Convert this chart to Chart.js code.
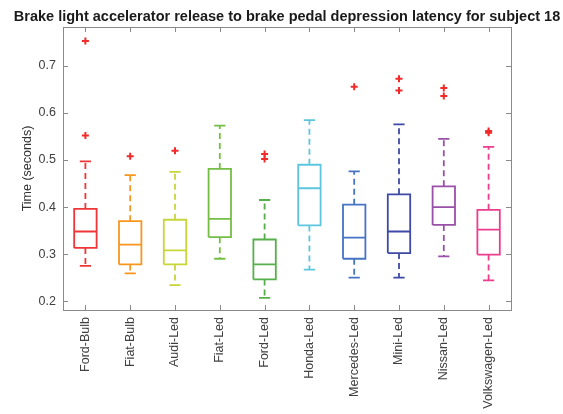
<!DOCTYPE html>
<html>
<head>
<meta charset="utf-8">
<script src="https://cdn.jsdelivr.net/npm/chart.js@4.4.0/dist/chart.umd.min.js"></script>
<style>
    body { margin: 0; background: #ffffff; }
</style>
</head>
<body>
<canvas id="boxChart" width="563" height="414"></canvas>
<script>
const chartTitle = 'Brake light accelerator release to brake pedal depression latency for subject 18';
const categories = ['Ford-Bulb', 'Fiat-Bulb', 'Audi-Led', 'Fiat-Led', 'Ford-Led', 'Honda-Led', 'Mercedes-Led', 'Mini-Led', 'Nissan-Led', 'Volkswagen-Led'];
const whiskerLow = [0.275, 0.259, 0.234, 0.290, 0.207, 0.267, 0.250, 0.250, 0.295, 0.244];
const q1 = [0.313, 0.278, 0.278, 0.336, 0.246, 0.361, 0.290, 0.302, 0.362, 0.299];
const median = [0.348, 0.320, 0.308, 0.375, 0.278, 0.440, 0.335, 0.348, 0.400, 0.352];
const q3 = [0.396, 0.370, 0.373, 0.481, 0.331, 0.490, 0.405, 0.427, 0.444, 0.394];
const whiskerHigh = [0.497, 0.468, 0.475, 0.573, 0.415, 0.585, 0.476, 0.576, 0.545, 0.528];
const outliers = [[0.753, 0.552], [0.508], [0.520], [], [0.513, 0.502], [], [0.656], [0.673, 0.648], [0.653, 0.636], [0.562, 0.558]];
const yTicks = [0.2, 0.3, 0.4, 0.5, 0.6, 0.7];

const boxColors = ['#ee3636', '#f7961f', '#c8d63a', '#74be45', '#55b04a', '#5cc6de', '#4673c2', '#3f4aa6', '#9a50a8', '#ec3d8e'];

const BOX_HALF = 0.25;   // half box width, in category units
const CAP_HALF = 0.125;  // half whisker cap width

const datasets = [];
categories.forEach((name, i) => {
    const x = i + 1;
    const gap = { x: x, y: null };
    // box outline + median + whisker caps (solid)
    datasets.push({
        type: 'line',
        data: [
            { x: x - BOX_HALF, y: q1[i] }, { x: x + BOX_HALF, y: q1[i] },
            { x: x + BOX_HALF, y: q3[i] }, { x: x - BOX_HALF, y: q3[i] },
            { x: x - BOX_HALF, y: q1[i] }, gap,
            { x: x - BOX_HALF, y: median[i] }, { x: x + BOX_HALF, y: median[i] }, gap,
            { x: x - CAP_HALF, y: whiskerHigh[i] }, { x: x + CAP_HALF, y: whiskerHigh[i] }, gap,
            { x: x - CAP_HALF, y: whiskerLow[i] }, { x: x + CAP_HALF, y: whiskerLow[i] }
        ],
        borderColor: boxColors[i],
        borderWidth: 1.8,
        pointRadius: 0,
        spanGaps: false,
        tension: 0
    });
    // whiskers (dashed)
    datasets.push({
        type: 'line',
        data: [
            { x: x, y: q3[i] }, { x: x, y: whiskerHigh[i] }, gap,
            { x: x, y: q1[i] }, { x: x, y: whiskerLow[i] }
        ],
        borderColor: boxColors[i],
        borderWidth: 1.8,
        borderDash: [6, 4],
        pointRadius: 0,
        spanGaps: false
    });
});

// outliers
const outlierPoints = [];
outliers.forEach((list, i) => list.forEach(v => outlierPoints.push({ x: i + 1, y: v })));
datasets.push({
    type: 'scatter',
    data: outlierPoints,
    pointStyle: 'cross',
    pointRadius: 3.5,
    borderWidth: 2,
    borderColor: '#f22a2a',
    backgroundColor: '#f22a2a'
});

// Frame with inward ticks on all four sides, plus the title centred over the plot
const framePlugin = {
    id: 'frame',
    afterDatasetsDraw(chart) {
        const { ctx, chartArea: a, scales } = chart;
        ctx.save();
        ctx.strokeStyle = '#8a8a8a';
        ctx.lineWidth = 1;
        ctx.strokeRect(Math.round(a.left) + 0.5, Math.round(a.top) + 0.5, Math.round(a.right - a.left), Math.round(a.bottom - a.top));
        ctx.beginPath();
        const len = 5;
        yTicks.forEach(v => {
            const y = Math.round(scales.y.getPixelForValue(v)) + 0.5;
            ctx.moveTo(a.left, y); ctx.lineTo(a.left + len, y);
            ctx.moveTo(a.right, y); ctx.lineTo(a.right - len, y);
        });
        categories.forEach((c, i) => {
            const x = Math.round(scales.x.getPixelForValue(i + 1)) + 0.5;
            ctx.moveTo(x, a.bottom); ctx.lineTo(x, a.bottom - len);
            ctx.moveTo(x, a.top); ctx.lineTo(x, a.top + len);
        });
        ctx.stroke();

        ctx.fillStyle = '#1a1a1a';
        ctx.font = 'bold 14.5px "Liberation Sans", Arial, sans-serif';
        ctx.textAlign = 'center';
        ctx.textBaseline = 'middle';
        ctx.fillText(chartTitle, (a.left + a.right) / 2, 16.5);
        ctx.restore();
    }
};

new Chart(document.getElementById('boxChart'), {
    data: { datasets: datasets },
    options: {
        responsive: false,
        animation: false,
        layout: { padding: { left: 0, right: 52, top: 27, bottom: 0 } },
        plugins: {
            legend: { display: false },
            tooltip: { enabled: false },
            title: { display: false }
        },
        scales: {
            x: {
                type: 'linear',
                min: 0.5,
                max: 10.5,
                grid: { display: false, drawTicks: false },
                border: { display: false },
                afterBuildTicks: scale => { scale.ticks = categories.map((c, i) => ({ value: i + 1 })); },
                afterFit: scale => { scale.height = 104; },
                ticks: {
                    autoSkip: false,
                    maxRotation: 90,
                    minRotation: 90,
                    padding: 7,
                    color: '#404040',
                    font: { family: 'Liberation Sans, Arial, sans-serif', size: 12.5 },
                    callback: value => categories[value - 1]
                }
            },
            y: {
                min: 0.181,
                max: 0.783,
                grid: { display: false, drawTicks: false },
                border: { display: false },
                afterBuildTicks: scale => { scale.ticks = yTicks.map(v => ({ value: v })); },
                afterFit: scale => { scale.width = 63; },
                title: {
                    display: true,
                    text: 'Time (seconds)',
                    color: '#333333',
                    font: { family: 'Liberation Sans, Arial, sans-serif', size: 12.5 },
                    padding: { top: 20, bottom: 0 }
                },
                ticks: {
                    padding: 7,
                    color: '#404040',
                    font: { family: 'Liberation Sans, Arial, sans-serif', size: 12.5 },
                    callback: value => value.toFixed(1)
                }
            }
        }
    },
    plugins: [framePlugin]
});
</script>
</body>
</html>
